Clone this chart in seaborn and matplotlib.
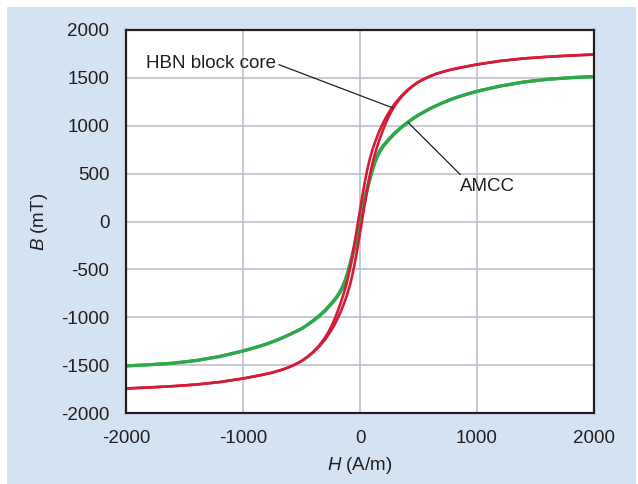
import numpy as np
import pandas as pd
import matplotlib
matplotlib.use("Agg")
import matplotlib.pyplot as plt
from matplotlib.patches import Rectangle
import seaborn as sns

# ---- data: mean curve (H in A/m, B in mT) and loop half-width ----
red_H = [-2000, -1800, -1600, -1400, -1200, -1000, -850, -750, -650, -575, -500, -450, -400,
         -350, -300, -260, -230, -200, -175, -150, -125, -100, -80, -60, -40, -20, 0,
         20, 40, 60, 80, 100, 125, 150, 175, 200, 230, 260, 300, 350,
         400, 450, 500, 575, 650, 750, 850, 1000, 1200, 1400, 1600, 1800, 2000]
red_B = [-1744, -1733, -1720, -1703, -1677, -1640, -1605, -1578, -1542, -1505, -1458, -1415, -1364,
         -1302, -1226, -1150, -1083, -1005, -932, -850, -760, -655, -550, -430, -295, -150, 0,
         150, 295, 430, 550, 655, 760, 850, 932, 1005, 1083, 1150, 1226, 1302,
         1364, 1415, 1458, 1505, 1542, 1578, 1605, 1640, 1677, 1703, 1720, 1733, 1744]
red_hw = [0, 0, 0, 0, 0, 0, 0, 0, 0, 1, 1, 2, 3,
          4, 6, 8, 10, 12, 14, 15, 16, 16, 16, 16, 16, 16, 16,
          16, 16, 16, 16, 16, 16, 15, 14, 12, 10, 8, 6, 4,
          3, 2, 1, 1, 0, 0, 0, 0, 0, 0, 0, 0, 0]

grn_H = [-2000, -1800, -1600, -1400, -1200, -1000, -900, -800, -700, -600, -500, -450, -400,
         -350, -300, -250, -200, -175, -150, -125, -100, -75, -50, -25, 0,
         25, 50, 75, 100, 125, 150, 175, 200, 250, 300, 350, 400,
         450, 500, 600, 700, 800, 900, 1000, 1200, 1400, 1600, 1800, 2000]
grn_B = [-1508, -1496, -1480, -1452, -1410, -1352, -1318, -1280, -1234, -1180, -1120, -1080, -1036,
         -988, -932, -866, -792, -745, -690, -615, -520, -405, -280, -140, 0,
         140, 280, 405, 520, 615, 690, 745, 792, 862, 925, 980, 1028,
         1072, 1112, 1180, 1237, 1285, 1325, 1360, 1415, 1457, 1485, 1502, 1514]
grn_hw = [0, 0, 0, 0, 0, 0, 0, 0, 0, 0, 1, 1, 2,
          2, 3, 3, 3, 3, 3, 3, 3, 3, 3, 3, 3,
          3, 3, 3, 3, 3, 3, 3, 3, 3, 3, 2, 2,
          1, 1, 0, 0, 0, 0, 0, 0, 0, 0, 0, 0]

x_ticks = [-2000, -1000, 0, 1000, 2000]
y_ticks = [-2000, -1500, -1000, -500, 0, 500, 1000, 1500, 2000]

curve_names = ["AMCC", "HBN block core"]
colors = {"HBN block core": "#d41c36", "AMCC": "#2fa84a"}
widths = {"HBN block core": 1.9, "AMCC": 2.3}

def loop_frame(name, H, B, hw):
    H = np.asarray(H, float); B = np.asarray(B, float); hw = np.asarray(hw, float)
    asc = pd.DataFrame({"H": H + hw, "B": B, "curve": name, "branch": name + "-asc"})
    desc = pd.DataFrame({"H": (H - hw)[::-1], "B": B[::-1], "curve": name, "branch": name + "-desc"})
    return pd.concat([asc, desc], ignore_index=True)

df = pd.concat([loop_frame("AMCC", grn_H, grn_B, grn_hw),
                loop_frame("HBN block core", red_H, red_B, red_hw)], ignore_index=True)

# ---- style ----
sns.set_theme(style="white")
plt.rcParams["font.family"] = ["Liberation Sans", "DejaVu Sans"]
plt.rcParams["mathtext.fontset"] = "custom"
plt.rcParams["mathtext.it"] = "Liberation Sans:italic"
plt.rcParams["mathtext.rm"] = "Liberation Sans"
txt = "#231f20"

fig = plt.figure(figsize=(6.38, 4.84), dpi=100, facecolor="white")
bg = Rectangle((7 / 638, 0), 629 / 638, 477 / 484, transform=fig.transFigure,
               facecolor="#d4e3f4", edgecolor="none", zorder=-10)
fig.add_artist(bg)
ax = fig.add_axes([126 / 638, 1 - 413 / 484, 468 / 638, 383 / 484])
ax.set_zorder(2)
ax.set_facecolor("white")

for name in curve_names:
    sub = df[df["curve"] == name]
    for br, g in sub.groupby("branch", sort=False):
        sns.lineplot(data=g, x="H", y="B", sort=False, estimator=None, ax=ax,
                     color=colors[name], lw=widths[name], legend=False, zorder=3)

ax.set_xlim(-2000, 2000)
ax.set_ylim(-2000, 2000)
ax.set_xticks(x_ticks)
ax.set_yticks(y_ticks)
ax.set_xticklabels([str(v) for v in x_ticks])
ax.set_yticklabels([str(v) for v in y_ticks])
ax.grid(True, color="#b8bcc8", lw=1.1, zorder=1)
ax.set_axisbelow(True)
ax.tick_params(axis="both", length=0, labelsize=13.5, colors=txt, pad=12)
for s in ax.spines.values():
    s.set_color(txt)
    s.set_linewidth(1.6)
    s.set_zorder(5)

ax.set_xlabel("$\\it{H}$ (A/m)", fontsize=13.5, color=txt, labelpad=6)
ax.set_ylabel("$\\it{B}$ (mT)", fontsize=13.5, color=txt, labelpad=8)

# annotations
ax.annotate("HBN block core", xy=(283, 1185), xytext=(-1833, 1650),
            fontsize=13.5, color=txt, ha="left", va="center",
            arrowprops=dict(arrowstyle="-", color="#222222", lw=0.9,
                            shrinkA=0, shrinkB=0, relpos=(1.02, 0.45)),
            zorder=6)
ax.annotate("AMCC", xy=(411, 1034), xytext=(857, 366),
            fontsize=13.5, color=txt, ha="left", va="center",
            arrowprops=dict(arrowstyle="-", color="#222222", lw=0.9,
                            shrinkA=0, shrinkB=0, relpos=(0.0, 1.2)),
            zorder=6)

fig.savefig("out.png", dpi=100, facecolor="white")
